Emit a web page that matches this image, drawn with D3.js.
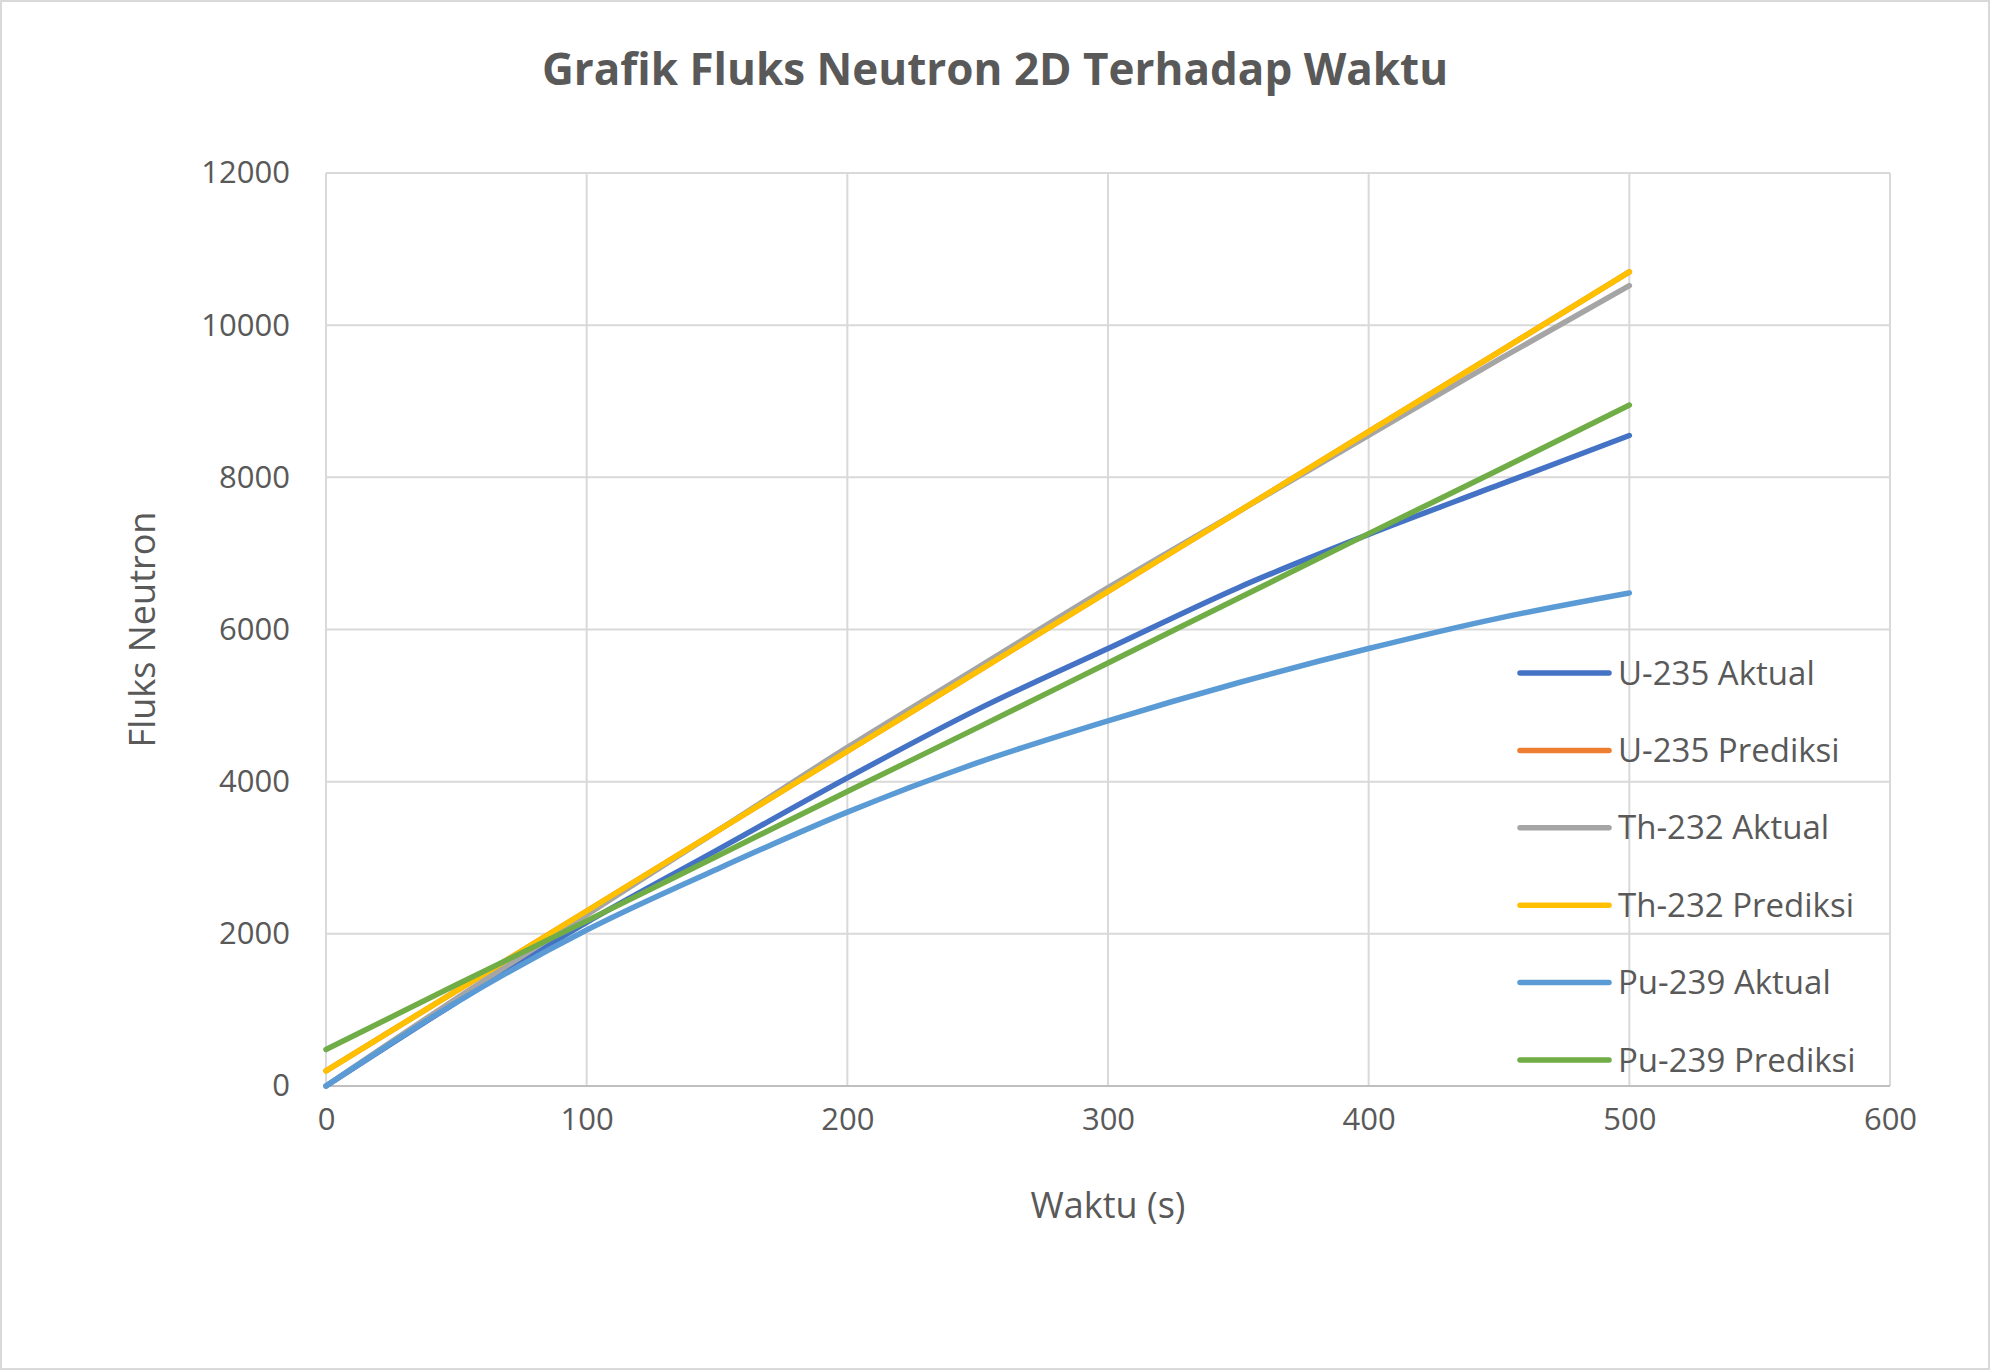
<!DOCTYPE html>
<html><head><meta charset="utf-8">
<script src="https://cdn.jsdelivr.net/npm/d3@7"></script>
<style>body{margin:0;background:#fff}text{font-family:"Open Sans",sans-serif}</style>
</head><body><svg></svg>
<script>
const width = 1990, height = 1370, margin = { top: 173, right: 100, bottom: 284, left: 326 };

const times = [0, 50, 100, 150, 200, 250, 300, 350, 400, 450, 500];
const u235Aktual = [0, 1100, 2150, 3100, 4050, 4950, 5750, 6550, 7250, 7900, 8550];
const u235Prediksi = [200, 1250, 2300, 3350, 4400, 5450, 6500, 7550, 8600, 9650, 10700];
const th232Aktual = [0, 1150, 2250, 3350, 4450, 5500, 6550, 7550, 8550, 9550, 10520];
const th232Prediksi = [200, 1250, 2300, 3350, 4400, 5450, 6500, 7550, 8600, 9650, 10700];
const pu239Aktual = [0, 1100, 2050, 2850, 3600, 4250, 4800, 5300, 5750, 6150, 6480];
const pu239Prediksi = [480, 1330, 2170, 3020, 3870, 4710, 5560, 6410, 7260, 8100, 8950];
const seriesNames = ["U-235 Aktual", "U-235 Prediksi", "Th-232 Aktual", "Th-232 Prediksi", "Pu-239 Aktual", "Pu-239 Prediksi"];
const seriesValues = [u235Aktual, u235Prediksi, th232Aktual, th232Prediksi, pu239Aktual, pu239Prediksi];
const colors = ["#4472C4", "#ED7D31", "#A5A5A5", "#FFC000", "#5B9BD5", "#70AD47"];

const svg = d3.select("svg").attr("width", width).attr("height", height);
svg.append("rect").attr("x", 1).attr("y", 1).attr("width", width - 2).attr("height", height - 2)
    .attr("fill", "#fff").attr("stroke", "#d9d9d9").attr("stroke-width", 2);

const x = d3.scaleLinear().domain([0, 600]).range([margin.left, width - margin.right]);
const y = d3.scaleLinear().domain([0, 12000]).range([height - margin.bottom, margin.top]);

// Gridlines
svg.append("g").selectAll("line").data(x.ticks(6)).join("line")
    .attr("x1", d => x(d)).attr("x2", d => x(d)).attr("y1", y(0)).attr("y2", y(12000))
    .attr("stroke", "#d9d9d9").attr("stroke-width", 2);
svg.append("g").selectAll("line").data(y.ticks(6)).join("line")
    .attr("x1", x(0)).attr("x2", x(600)).attr("y1", d => y(d)).attr("y2", d => y(d))
    .attr("stroke", "#d9d9d9").attr("stroke-width", 2);

// Axes
const xAxis = svg.append("g").attr("transform", `translate(0,${y(0)})`)
    .call(d3.axisBottom(x).ticks(6).tickSize(0).tickPadding(22));
const yAxis = svg.append("g").attr("transform", `translate(${x(0)},0)`)
    .call(d3.axisLeft(y).ticks(6).tickSize(0).tickPadding(36).tickFormat(d3.format("d")));
[xAxis, yAxis].forEach(a => {
    a.select(".domain").remove();
    a.selectAll("text").style("font-size", "31px").attr("fill", "#595959").style("font-family", "Open Sans");
});
svg.append("line").attr("x1", x(0)).attr("x2", x(600)).attr("y1", y(0)).attr("y2", y(0))
    .attr("stroke", "#bfbfbf").attr("stroke-width", 2);

// Lines
const line = d3.line().x((d, i) => x(times[i])).y(d => y(d)).curve(d3.curveMonotoneX);
svg.append("g").selectAll("path").data(seriesValues).join("path")
    .attr("d", line).attr("fill", "none")
    .attr("stroke", (d, i) => colors[i]).attr("stroke-width", 5.5).attr("stroke-linecap", "round");

// Titles
svg.append("text").attr("x", 995).attr("y", 85).attr("text-anchor", "middle")
    .style("font-size", "44px").style("font-weight", "bold").attr("fill", "#595959")
    .text("Grafik Fluks Neutron 2D Terhadap Waktu");
svg.append("text").attr("x", x(300)).attr("y", 1218).attr("text-anchor", "middle")
    .style("font-size", "36px").attr("fill", "#595959").text("Waktu (s)");
svg.append("text").attr("transform", `translate(155,${y(6000)}) rotate(-90)`).attr("text-anchor", "middle")
    .style("font-size", "36px").attr("fill", "#595959").text("Fluks Neutron");

// Legend
const legend = svg.append("g").selectAll("g").data(seriesNames).join("g")
    .attr("transform", (d, i) => `translate(1520,${673 + i * 77.4})`);
legend.append("line").attr("x1", 0).attr("x2", 89).attr("stroke", (d, i) => colors[i])
    .attr("stroke-width", 5.5).attr("stroke-linecap", "round");
legend.append("text").attr("x", 98).attr("dy", "0.35em").style("font-size", "33px")
    .attr("fill", "#595959").text(d => d);
</script></body></html>
